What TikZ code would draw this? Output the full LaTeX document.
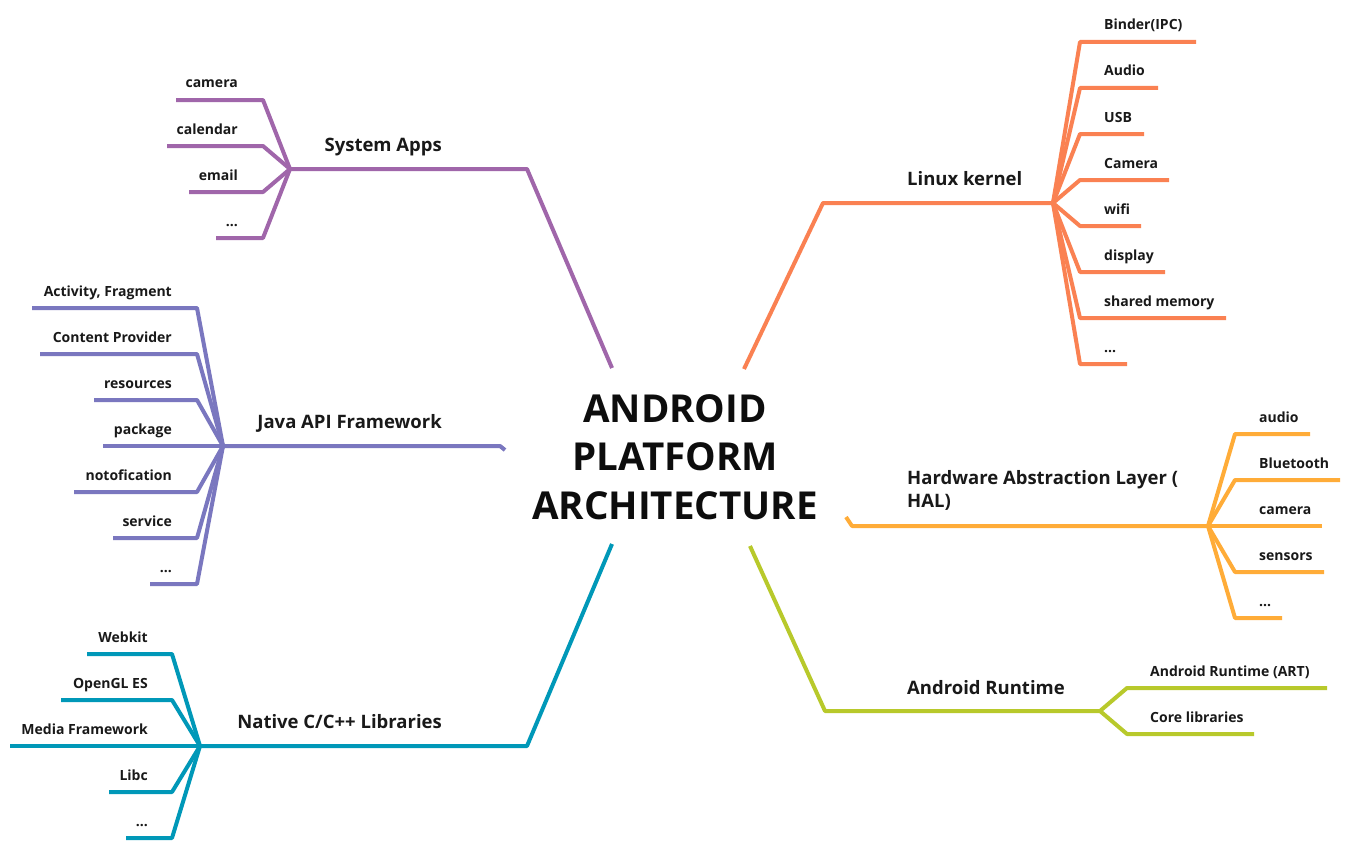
\documentclass[tikz,border=0pt]{standalone}
\usepackage{fontspec}
\setmainfont{Open Sans}
\definecolor{cSys}{HTML}{A066AA}
\definecolor{cJava}{HTML}{7A77BF}
\definecolor{cNat}{HTML}{0098B8}
\definecolor{cLin}{HTML}{FA8152}
\definecolor{cHal}{HTML}{FFAC38}
\definecolor{cRun}{HTML}{B8C92B}
\newcommand\myell{...}
\begin{document}
\begin{tikzpicture}[x=1pt,y=-1pt,
  wire/.style={line width=4pt, line join=round, line cap=butt},
  leafL/.style={anchor=base east, inner sep=0pt, font=\fontsize{14}{17}\selectfont\bfseries, text=black!90},
  leafR/.style={anchor=base west, inner sep=0pt, font=\fontsize{14}{17}\selectfont\bfseries, text=black!90},
  headL/.style={anchor=base east, inner sep=0pt, font=\fontsize{18.5}{23}\selectfont\bfseries, text=black!90},
  headR/.style={anchor=base west, inner sep=0pt, font=\fontsize{18.5}{23}\selectfont\bfseries, text=black!90, align=left},
  core/.style={inner sep=0pt, align=center, font=\fontsize{38.5}{48.5}\selectfont\bfseries, text=black!95}]
\useasboundingbox (0,0) rectangle (1350,851);
\fill[white] (0,0) rectangle (1350,851);

% centre
\node[core] (center) at (675,457) {ANDROID\\PLATFORM\\ARCHITECTURE};

% ---------------- System Apps
\coordinate (sa0) at (612,368);
\coordinate (sa1) at (527,169);
\coordinate (sah) at (290,169);
\draw[wire,cSys] (sa0) -- (sa1) -- (sah);
\node[headL] (sat) at (442,151) {System Apps};
\foreach \n/\y/\xe/\t in {1/100/176/camera, 2/146/167/calendar, 3/192/189/email, 4/238/216/\myell}{
  \coordinate (sae\n) at (\xe,\y);
  \coordinate (sac\n) at (263,\y);
  \draw[wire,cSys] (sae\n) -- (sac\n) -- (sah);
  \node[leafL] (sal\n) at (238,\y-12) {\t};
}

% ---------------- Java API Framework
\coordinate (ja0) at (505,450);
\coordinate (ja1) at (500,446);
\coordinate (jah) at (223,446);
\draw[wire,cJava] (ja0) -- (ja1) -- (jah);
\node[headL] (jat) at (442,428) {Java API Framework};
\foreach \n/\y/\xe/\t in {1/308/32/{Activity, Fragment}, 2/354/40/Content Provider, 3/400/94/resources, 4/446/103/package, 5/492/74/notofication, 6/538/113/service, 7/584/150/\myell}{
  \coordinate (jae\n) at (\xe,\y);
  \coordinate (jac\n) at (197,\y);
  \draw[wire,cJava] (jae\n) -- (jac\n) -- (jah);
  \node[leafL] (jal\n) at (172,\y-12) {\t};
}

% ---------------- Native C/C++ Libraries
\coordinate (na0) at (612,544);
\coordinate (na1) at (527,746);
\coordinate (nah) at (200,746);
\draw[wire,cNat] (na0) -- (na1) -- (nah);
\node[headL] (nat) at (442,728) {Native C/C++ Libraries};
\foreach \n/\y/\xe/\t in {1/654/87/Webkit, 2/700/61/OpenGL ES, 3/746/10/Media Framework, 4/792/109/Libc, 5/838/126/\myell}{
  \coordinate (nae\n) at (\xe,\y);
  \coordinate (nac\n) at (172,\y);
  \draw[wire,cNat] (nae\n) -- (nac\n) -- (nah);
  \node[leafL] (nal\n) at (148,\y-12) {\t};
}

% ---------------- Linux kernel
\coordinate (li0) at (744,369);
\coordinate (li1) at (823,203);
\coordinate (lih) at (1053,203);
\draw[wire,cLin] (li0) -- (li1) -- (lih);
\node[headR] (lit) at (907,185) {Linux kernel};
\foreach \n/\y/\xe/\t in {1/42/1196/Binder(IPC), 2/88/1158/Audio, 3/134/1144/USB, 4/180/1169/Camera, 5/226/1141/wifi, 6/272/1165/display, 7/318/1226/shared memory, 8/364/1127/\myell}{
  \coordinate (lie\n) at (\xe,\y);
  \coordinate (lic\n) at (1080,\y);
  \draw[wire,cLin] (lie\n) -- (lic\n) -- (lih);
  \node[leafR] (lil\n) at (1104,\y-12) {\t};
}

% ---------------- Hardware Abstraction Layer
\coordinate (ha0) at (846,517);
\coordinate (ha1) at (852,526);
\coordinate (hah) at (1208,526);
\draw[wire,cHal] (ha0) -- (ha1) -- (hah);
\node[headR, anchor=north west] (hat) at (907,470) {Hardware Abstraction Layer (\\HAL)};
\foreach \n/\y/\xe/\t in {1/434/1310/audio, 2/480/1340/Bluetooth, 3/526/1322/camera, 4/572/1324/sensors, 5/618/1282/\myell}{
  \coordinate (hae\n) at (\xe,\y);
  \coordinate (hac\n) at (1235,\y);
  \draw[wire,cHal] (hae\n) -- (hac\n) -- (hah);
  \node[leafR] (hal\n) at (1259,\y-12) {\t};
}

% ---------------- Android Runtime
\coordinate (ar0) at (750,546);
\coordinate (ar1) at (825,711);
\coordinate (arh) at (1100,711);
\draw[wire,cRun] (ar0) -- (ar1) -- (arh);
\node[headR] (art) at (907,694) {Android Runtime};
\foreach \n/\y/\xe/\t in {1/688/1327/Android Runtime (ART), 2/734/1254/Core libraries}{
  \coordinate (are\n) at (\xe,\y);
  \coordinate (arc\n) at (1127,\y);
  \draw[wire,cRun] (are\n) -- (arc\n) -- (arh);
  \node[leafR] (arl\n) at (1150,\y-12) {\t};
}
\end{tikzpicture}
\end{document}
